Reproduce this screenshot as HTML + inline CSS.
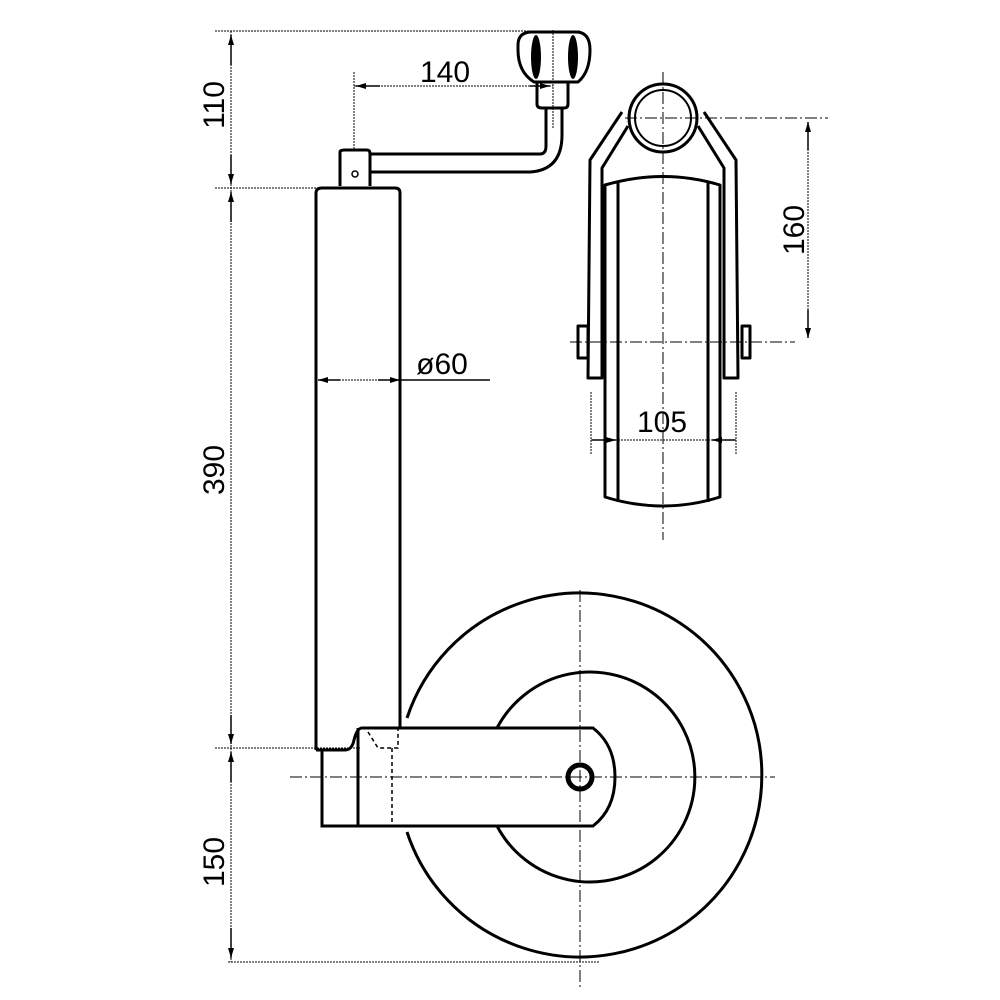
<!DOCTYPE html>
<html><head><meta charset="utf-8"><style>html,body{margin:0;padding:0;background:#fff}svg{display:block}</style></head>
<body>
<svg width="1000" height="1000" viewBox="0 0 1000 1000" xmlns="http://www.w3.org/2000/svg">
<defs>
<marker id="a" viewBox="0 0 10 6" refX="10" refY="3" markerWidth="14" markerHeight="6" markerUnits="userSpaceOnUse" orient="auto-start-reverse"><path d="M0,0 L10,3 L0,6 z" fill="#000"/></marker>
</defs>
<g fill="none" stroke="#000" stroke-width="1" stroke-dasharray="2,1">
<!-- left dim extension lines -->
<line x1="215" y1="31" x2="580" y2="31"/>
<line x1="215" y1="188" x2="318" y2="188"/>
<line x1="215" y1="748" x2="360" y2="748"/>
<line x1="228" y1="962" x2="600" y2="962"/>
<line x1="231" y1="31" x2="231" y2="962"/>
</g>
<g stroke="#000" stroke-width="1.5" fill="none">
<line x1="231" y1="35" x2="231" y2="65" marker-start="url(#a)"/>
<line x1="231" y1="155" x2="231" y2="184" marker-end="url(#a)"/>
<line x1="231" y1="192" x2="231" y2="222" marker-start="url(#a)"/>
<line x1="231" y1="715" x2="231" y2="744" marker-end="url(#a)"/>
<line x1="231" y1="752" x2="231" y2="782" marker-start="url(#a)"/>
<line x1="231" y1="928" x2="231" y2="958" marker-end="url(#a)"/>
</g>
<g font-family="Liberation Sans, sans-serif" font-size="30" fill="#000" text-anchor="middle">
<text transform="translate(224,105) rotate(-90)">110</text>
<text transform="translate(224,470) rotate(-90)">390</text>
<text transform="translate(224,862) rotate(-90)">150</text>
<text x="445" y="82">140</text>
<text x="442" y="374">ø60</text>
<text x="662" y="432">105</text>
<text transform="translate(804,230) rotate(-90)">160</text>
</g>
<!-- 140 dim -->
<g stroke="#000" stroke-width="1" stroke-dasharray="2,1" fill="none">
<line x1="354" y1="72" x2="354" y2="150"/>
<line x1="354" y1="86" x2="553" y2="86"/>
<line x1="553" y1="30" x2="553" y2="128"/>
</g>
<line x1="356" y1="86" x2="380" y2="86" stroke="#000" stroke-width="1.5" marker-start="url(#a)"/>
<line x1="530" y1="86" x2="550" y2="86" stroke="#000" stroke-width="1.5" marker-end="url(#a)"/>
<!-- crank -->
<g stroke="#000" stroke-width="3" fill="none" stroke-linejoin="round">
<path d="M518,45 Q518,32 532,32 L576,32 Q590,32 590,50 Q590,72 578,82 L534,82 Q518,72 518,50 Z"/>
<path d="M537,82 L537,104 Q537,108 542,108 L564,108 Q568,108 568,104 L568,82"/>
<path d="M370,154 L540,154 Q546,154 546,146 L546,109"/>
<path d="M370,172 L530,172 Q562,170 562,135 L562,109"/>
<path d="M340,186 L340,152 Q340,150 345,150 L367,150 Q370,150 370,154 L370,186"/>
<path d="M316,750 L316,193 Q316,188 322,188 L395,188 Q400,188 400,193 L400,728"/>
</g>
<ellipse cx="536" cy="57" rx="5" ry="22" fill="#000"/>
<ellipse cx="573" cy="57" rx="5" ry="22" fill="#000"/>
<circle cx="355" cy="174" r="3" fill="none" stroke="#000" stroke-width="1.5"/>
<!-- ø60 dim -->
<line x1="318" y1="380" x2="400" y2="380" stroke="#000" stroke-width="1" stroke-dasharray="2,1"/>
<line x1="318" y1="380" x2="340" y2="380" stroke="#000" stroke-width="1.5" marker-start="url(#a)"/>
<line x1="378" y1="380" x2="400" y2="380" stroke="#000" stroke-width="1.5" marker-end="url(#a)"/>
<line x1="400" y1="380" x2="490" y2="380" stroke="#000" stroke-width="1.5"/>
<!-- wheel -->
<g stroke="#000" stroke-width="3" fill="none">
<path d="M407,718 A182,182 0 1 1 407,832"/>
<path d="M497,728 A105,105 0 1 1 497,826"/>
<circle cx="580" cy="777" r="12" stroke-width="5"/>
<path d="M316,750 L345,750 Q352,750 354,740 Q357,728 362,728 L593,728 Q615,745 615,777 Q615,809 593,826 L322,826 L322,750"/>
<line x1="358" y1="728" x2="358" y2="826"/>
</g>
<g stroke="#000" stroke-width="1.5" fill="none" stroke-dasharray="4,3">
<path d="M368,732 L378,748 L398,748 L398,728"/>
<line x1="392" y1="748" x2="392" y2="826"/>
</g>
<g stroke="#000" stroke-width="1" fill="none" stroke-dasharray="12,3,2,3">
<line x1="290" y1="777" x2="775" y2="777"/>
<line x1="580" y1="590" x2="580" y2="990"/>
<line x1="663" y1="72" x2="663" y2="540"/>
<line x1="625" y1="118" x2="828" y2="118"/>
<line x1="570" y1="342" x2="795" y2="342"/>
</g>
<!-- side view -->
<g stroke="#000" stroke-width="3" fill="none" stroke-linejoin="round">
<circle cx="663" cy="118" r="34"/>
<circle cx="663" cy="118" r="28" stroke-width="2"/>
<path d="M622,112 L590,160 L588,378 L602,378 L602,168 L628,126"/>
<path d="M704,112 L736,160 L738,378 L724,378 L724,168 L698,126"/>
<path d="M605,185 Q663,168 720,185 L720,497 Q663,515 605,497 Z"/>
<line x1="618" y1="182" x2="618" y2="502"/>
<line x1="708" y1="182" x2="708" y2="502"/>
<rect x="578" y="326" width="10" height="32"/>
<rect x="742" y="326" width="8" height="32"/>
<line x1="602" y1="320" x2="605" y2="360"/>
</g>
<!-- 160 dim -->
<line x1="808" y1="122" x2="808" y2="338" stroke="#000" stroke-width="1" stroke-dasharray="2,1"/>
<line x1="808" y1="122" x2="808" y2="150" stroke="#000" stroke-width="1.5" marker-start="url(#a)"/>
<line x1="808" y1="310" x2="808" y2="338" stroke="#000" stroke-width="1.5" marker-end="url(#a)"/>
<!-- 105 dim -->
<g stroke="#000" stroke-width="1" stroke-dasharray="2,1">
<line x1="591" y1="392" x2="591" y2="455"/>
<line x1="736" y1="392" x2="736" y2="455"/>
<line x1="591" y1="440" x2="736" y2="440"/>
</g>
<line x1="592" y1="440" x2="616" y2="440" stroke="#000" stroke-width="1.5" marker-end="url(#a)"/>
<line x1="712" y1="440" x2="735" y2="440" stroke="#000" stroke-width="1.5" marker-start="url(#a)"/>
</svg>
</body></html>
